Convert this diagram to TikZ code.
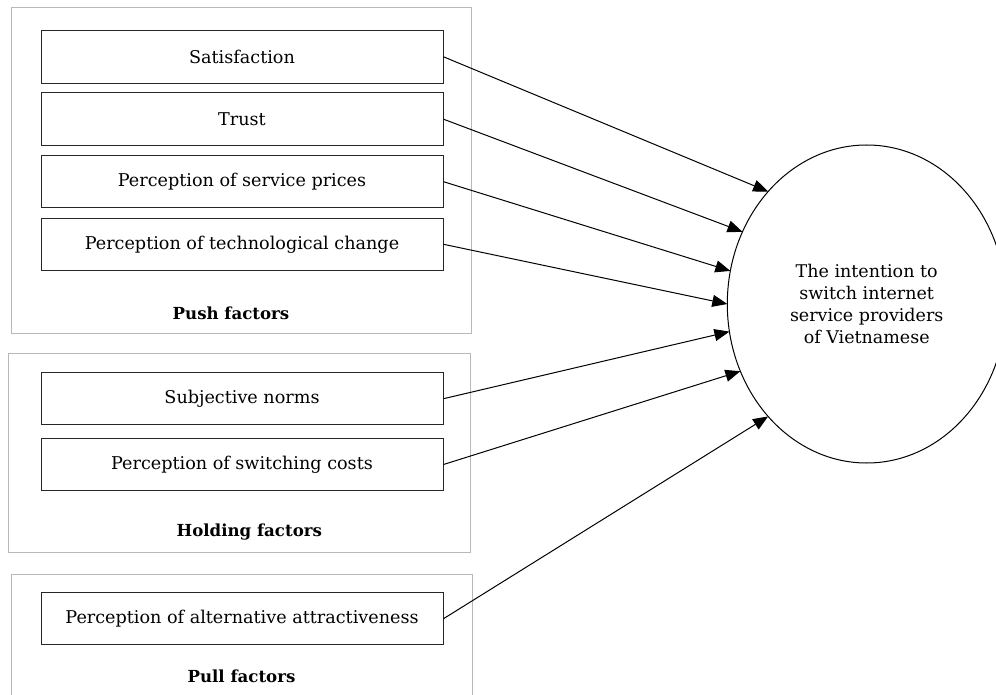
\documentclass[tikz,border=0pt]{standalone}
\usepackage{fontspec}
\setmainfont{DejaVu Serif}
\usetikzlibrary{shapes.geometric,arrows.meta,calc}
\begin{document}
\begin{tikzpicture}[x=1pt,y=-1pt,
  factor/.style={draw=black!85,line width=1pt,minimum width=402pt,minimum height=52.5pt,inner sep=0pt,font=\fontsize{17.6}{20}\selectfont},
  group/.style={draw=black!28,line width=1pt},
  glabel/.style={inner sep=0pt,font=\fontsize{16.6}{20}\selectfont\bfseries},
  arr/.style={-{Triangle[length=15pt,width=12pt]},line width=1pt}]
\clip (0,0) rectangle (996,695);
\fill[white] (0,0) rectangle (996,695);
% groups
\draw[group] (11,8) rectangle (471.5,333);
\draw[group] (8.3,353.3) rectangle (470.7,552);
\draw[group] (11.3,574) rectangle (472.5,705);
% factors
\node[factor] (sat)  at (242,56.8)  {Satisfaction};
\node[factor] (tru)  at (242,119.2) {Trust};
\node[factor] (pri)  at (242,181.7) {Perception of service prices};
\node[factor] (tec)  at (242,244.3) {Perception of technological change};
\node[factor] (nor)  at (242,398.7) {Subjective norms};
\node[factor] (cos)  at (242,464.5) {Perception of switching costs};
\node[factor] (alt)  at (242,618.7) {Perception of alternative attractiveness};
% group labels
\node[glabel] (lpush) at (231,313) {Push factors};
\node[glabel] (lhold) at (249.3,531.7) {Holding factors};
\node[glabel] (lpull) at (241.5,676) {Pull factors};
% outcome
\node[ellipse,draw,line width=1pt,minimum width=278.8pt,minimum height=318pt,inner sep=0pt,align=center,font=\fontsize{17.5}{22.2}\selectfont] (e) at (866.7,304)
  {The intention to\\switch internet\\service providers\\of Vietnamese};
\coordinate (t1) at ($(e.center)+(135:139.4pt and 159pt)$);
\coordinate (t2) at ($(e.center)+(153:139.4pt and 159pt)$);
\coordinate (t3) at ($(e.center)+(168:139.4pt and 159pt)$);
\coordinate (t4) at ($(e.center)+(180:139.4pt and 159pt)$);
\coordinate (t5) at ($(e.center)+(190:139.4pt and 159pt)$);
\coordinate (t6) at ($(e.center)+(205:139.4pt and 159pt)$);
\coordinate (t7) at ($(e.center)+(225:139.4pt and 159pt)$);
\draw[arr] (sat.east) -- (t1);
\draw[arr] (tru.east) -- (t2);
\draw[arr] (pri.east) -- (t3);
\draw[arr] (tec.east) -- (t4);
\draw[arr] (nor.east) -- (t5);
\draw[arr] (cos.east) -- (t6);
\draw[arr] (alt.east) -- (t7);
\end{tikzpicture}
\end{document}
